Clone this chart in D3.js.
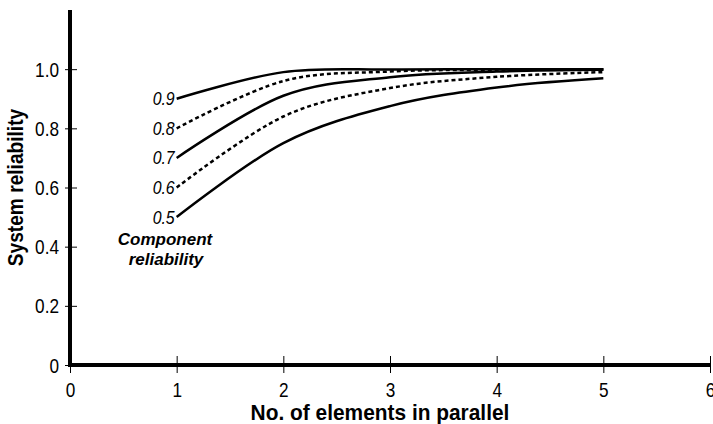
<!DOCTYPE html>
<html>
<head>
<meta charset="utf-8">
<script src="https://cdn.jsdelivr.net/npm/d3@7"></script>
<style>
  html, body { margin: 0; padding: 0; background: #fff; }
  svg { display: block; }
  text { font-family: "Liberation Sans", Arial, Helvetica, sans-serif; fill: #000; }
</style>
</head>
<body>
<svg id="chart" width="713" height="424"></svg>
<script>
// Number of identical elements connected in parallel
const elements = [1, 2, 3, 4, 5];

// System reliability for each component reliability
const rel09 = [0.9, 0.99, 0.999, 0.9999, 1.0];
const rel08 = [0.8, 0.96, 0.992, 0.998, 0.9997];
const rel07 = [0.7, 0.91, 0.973, 0.992, 0.998];
const rel06 = [0.6, 0.84, 0.936, 0.974, 0.99];
const rel05 = [0.5, 0.75, 0.875, 0.938, 0.969];

const componentLabels = ["0.9", "0.8", "0.7", "0.6", "0.5"];
const seriesValues = [rel09, rel08, rel07, rel06, rel05];
const seriesDashed = [false, true, false, true, false];

const xTicks = [0, 1, 2, 3, 4, 5, 6];
const yTicks = [0, 0.2, 0.4, 0.6, 0.8, 1.0];

const svg = d3.select("#chart");

const x = d3.scaleLinear().domain([0, 6]).range([70, 710]);
const y = d3.scaleLinear().domain([0, 1.2]).range([365, 10]);

// Condensed look: squeeze glyphs horizontally around their anchor
const TICK_SX = 0.86;

// Y axis: labels plus short crossing ticks
const yAxis = svg.append("g")
  .attr("transform", `translate(${x(0)},0)`)
  .call(d3.axisLeft(y).tickValues(yTicks).tickSize(0).tickPadding(11)
    .tickFormat(d => d === 0 ? "0" : d3.format(".1f")(d)));
yAxis.select(".domain").remove();
yAxis.selectAll(".tick text")
  .attr("font-size", 20).attr("font-family", null).attr("dy", "0.35em")
  .attr("x", -11 / TICK_SX)
  .attr("transform", `scale(${TICK_SX},1)`);
yAxis.selectAll(".tick").append("line")
  .attr("x1", -5).attr("x2", 7).attr("stroke", "#000").attr("stroke-width", 1);

// X axis
const xAxis = svg.append("g")
  .attr("transform", `translate(0,${y(0)})`)
  .call(d3.axisBottom(x).tickValues(xTicks).tickSize(0).tickPadding(18)
    .tickFormat(d3.format("d")));
xAxis.select(".domain").remove();
xAxis.selectAll(".tick text")
  .attr("font-size", 20).attr("font-family", null)
  .attr("transform", `scale(${TICK_SX},1)`);
xAxis.selectAll(".tick").append("line")
  .attr("y1", -9).attr("y2", 8).attr("stroke", "#000").attr("stroke-width", 1);

// Heavy axis lines
svg.append("line")
  .attr("x1", x(0)).attr("x2", x(0)).attr("y1", y(1.2)).attr("y2", y(0) + 2)
  .attr("stroke", "#000").attr("stroke-width", 4);
svg.append("line")
  .attr("x1", x(0) - 2).attr("x2", x(6)).attr("y1", y(0)).attr("y2", y(0))
  .attr("stroke", "#000").attr("stroke-width", 4);

// Reliability curves, smoothed through the integer points
const line = d3.line()
  .x((d, i) => x(elements[i]))
  .y(d => y(d))
  .curve(d3.curveCardinal.tension(0));

seriesValues.forEach((vals, k) => {
  svg.append("path")
    .attr("d", line(vals))
    .attr("fill", "none")
    .attr("stroke", "#000")
    .attr("stroke-width", 2.5)
    .attr("stroke-dasharray", seriesDashed[k] ? "4,3" : null);

  svg.append("g")
    .attr("transform", `translate(${x(elements[0]) - 2},${y(vals[0]) + 6.5}) scale(0.88,1)`)
    .append("text")
    .attr("text-anchor", "end")
    .attr("font-size", 18)
    .attr("font-style", "italic")
    .text(componentLabels[k]);
});

// Legend note for the curve labels
const note = svg.append("text")
  .attr("text-anchor", "middle")
  .attr("font-size", 17)
  .attr("font-weight", "bold")
  .attr("font-style", "italic");
note.append("tspan").attr("x", 165).attr("y", 245).text("Component");
note.append("tspan").attr("x", 166).attr("y", 265).text("reliability");

// Axis titles
svg.append("g")
  .attr("transform", `translate(23,${(y(0) + y(1.2)) / 2}) rotate(-90) scale(0.87,1)`)
  .append("text")
  .attr("text-anchor", "middle")
  .attr("font-size", 22)
  .attr("font-weight", "bold")
  .text("System reliability");

svg.append("g")
  .attr("transform", "translate(380,420) scale(0.95,1)")
  .append("text")
  .attr("text-anchor", "middle")
  .attr("font-size", 22)
  .attr("font-weight", "bold")
  .text("No. of elements in parallel");
</script>
</body>
</html>
